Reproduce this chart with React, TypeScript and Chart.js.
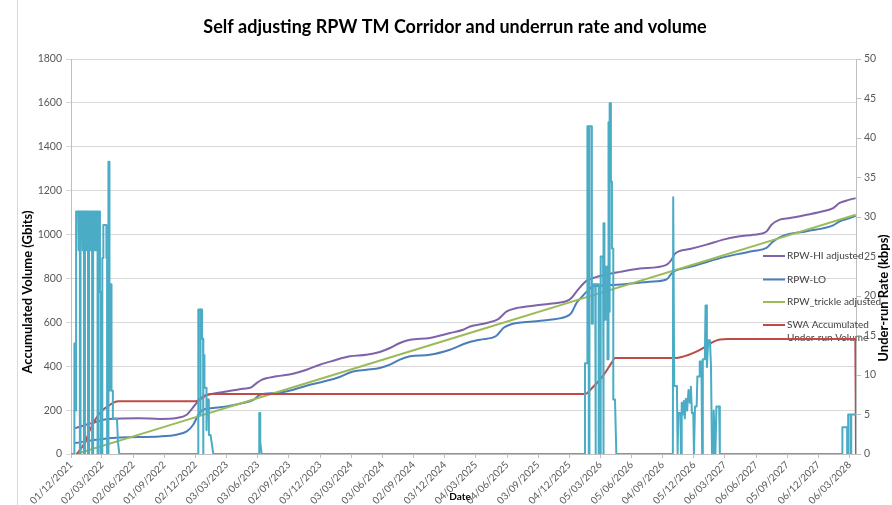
import React, { useEffect, useRef } from 'react';
import { Chart, registerables } from 'chart.js';

Chart.register(...registerables);

const chartTitle = 'Self adjusting RPW TM Corridor and underrun rate and volume';
const leftAxisTitle = 'Accumulated Volume (Gbits)';
const rightAxisTitle = 'Under-run Rate (kbps)';
const xAxisTitle = 'Date';

const xTickLabels = [
  '01/12/2021', '02/03/2022', '02/06/2022', '01/09/2022', '02/12/2022', '03/03/2023',
  '03/06/2023', '02/09/2023', '03/12/2023', '03/03/2024', '03/06/2024', '02/09/2024',
  '03/12/2024', '04/03/2025', '04/06/2025', '03/09/2025', '04/12/2025', '05/03/2026',
  '05/06/2026', '04/09/2026', '05/12/2026', '06/03/2027', '06/06/2027', '05/09/2027',
  '06/12/2027', '06/03/2028',
];

// days since 01/12/2021
const hiDays = [12, 60, 110, 200, 261, 310, 340, 358, 373, 388, 417, 457, 505, 531, 545, 560, 604, 652, 692, 731, 770, 819, 868, 907, 937, 966, 996, 1054, 1113, 1152, 1172, 1221, 1255, 1280, 1309, 1358, 1407, 1456, 1470, 1490, 1515, 1540, 1563, 1612, 1671, 1749, 1764, 1774, 1818, 1867, 1916, 1965, 2004, 2043, 2058, 2082, 2112, 2161, 2209, 2239, 2258, 2288, 2305];
const hiValues = [118, 140, 160, 163, 160, 164, 179, 211, 240, 263, 275, 285, 297, 305, 323, 338, 354, 366, 384, 407, 425, 445, 452, 465, 483, 506, 521, 529, 551, 566, 581, 597, 615, 650, 665, 676, 685, 697, 711, 750, 790, 805, 815, 830, 845, 862, 885, 913, 934, 954, 977, 992, 999, 1014, 1045, 1068, 1075, 1090, 1106, 1121, 1144, 1159, 1166];

const loDays = [12, 75, 144, 261, 310, 340, 359, 374, 388, 418, 457, 505, 536, 555, 604, 653, 692, 731, 780, 829, 868, 907, 937, 966, 996, 1054, 1113, 1162, 1201, 1250, 1270, 1289, 1358, 1407, 1456, 1470, 1485, 1500, 1515, 1534, 1583, 1632, 1700, 1749, 1764, 1774, 1820, 1870, 1916, 1965, 2004, 2043, 2063, 2091, 2161, 2239, 2258, 2288, 2305];
const loValues = [50, 65, 75, 80, 88, 103, 133, 179, 202, 210, 217, 232, 247, 270, 278, 293, 311, 326, 346, 376, 384, 392, 407, 430, 445, 452, 475, 506, 521, 539, 574, 589, 604, 612, 627, 643, 688, 715, 740, 764, 770, 775, 785, 795, 822, 834, 853, 876, 896, 913, 925, 939, 969, 994, 1015, 1042, 1060, 1075, 1085];

const trickleDays = [15, 300, 600, 937, 1200, 1515, 1800, 2100, 2305];
const trickleValues = [0, 136, 279, 440, 565, 715, 850, 993, 1090];

const swaDays = [17, 40, 56, 85, 115, 139, 365, 380, 400, 417, 1510, 1530, 1560, 1588, 1598, 1775, 1800, 1827, 1857, 1885, 1906, 1930, 2304, 2306];
const swaValues = [0, 50, 111, 187, 225, 240, 240, 250, 268, 273, 273, 300, 350, 415, 437, 437, 445, 460, 483, 510, 522, 524, 524, 0];

const rateDays = [
  0, 10, 10, 13, 13, 15, 15, 21, 21, 23, 23, 26, 26, 28, 28, 33, 33, 35, 35, 38, 38, 41, 41, 45, 45, 47, 47, 50, 50, 53, 53, 57, 57, 59, 59, 62, 62, 65, 65, 70, 70, 73, 73, 78, 78, 81, 81, 85, 85, 88, 88, 92, 92, 95, 95, 104, 104, 106, 106, 110, 110, 113, 113, 117, 119, 119, 123, 123, 135, 138, 142,
  374, 374, 380, 380, 381, 385, 385, 388, 388, 389, 389, 392, 392, 398, 398, 400, 405, 405, 410, 418,
  553, 553, 556, 556, 560,
  1510, 1510, 1517, 1517, 1521, 1521, 1523, 1523, 1530, 1530, 1533, 1533, 1540, 1540, 1542, 1542, 1550, 1550, 1556, 1556, 1563, 1563, 1565, 1565, 1567, 1567, 1570, 1570, 1576, 1576, 1579, 1579, 1581, 1581, 1583, 1583, 1586, 1586, 1589, 1589, 1593, 1593, 1598, 1602,
  1768, 1769, 1771, 1772, 1780, 1782, 1784, 1790, 1792, 1794, 1797, 1800, 1803, 1806, 1810, 1814, 1818, 1821, 1824, 1828, 1830, 1833, 1838, 1840, 1845, 1847, 1852, 1854, 1856, 1862, 1864, 1866, 1868, 1872, 1877, 1880, 1883, 1886, 1888, 1893, 1896, 1904, 1906,
  2265, 2266, 2280, 2280, 2283, 2283, 2290, 2290, 2292, 2292, 2306,
];
const rateValues = [
  0, 0, 14, 14, 5.5, 5.5, 30.7, 30.7, 25.8, 25.8, 30.7, 30.7, 0, 0, 30.7, 30.7, 25.8, 25.8, 30.7, 30.7, 0, 0, 30.7, 30.7, 25.8, 25.8, 30.7, 30.7, 0, 0, 30.7, 30.7, 25.8, 25.8, 30.7, 30.7, 0, 0, 30.7, 30.7, 25.8, 25.8, 30.7, 30.7, 0, 0, 30.7, 30.7, 20.5, 20.5, 0, 0, 24.8, 24.8, 29, 29, 24.8, 24.8, 0, 0, 37, 37, 8, 21.5, 21.5, 8, 8, 4.5, 4.5, 1.5, 0,
  0, 18.3, 18.3, 5, 18.3, 18.3, 14.6, 14.6, 0, 0, 12.5, 12.5, 8.4, 8.4, 3, 6.9, 6.9, 2.4, 2.4, 0,
  0, 5.2, 5.2, 1.5, 0,
  0, 11.5, 11.5, 41.5, 41.5, 0, 0, 41.5, 41.5, 16.5, 16.5, 21.5, 21.5, 0, 0, 21.5, 21.5, 0, 0, 25, 25, 0, 0, 29.2, 29.2, 17, 17, 23.7, 23.7, 12, 12, 42, 42, 18, 18, 44.4, 44.4, 34.5, 34.5, 26, 26, 6.9, 6.9, 0,
  0, 32.5, 32.5, 8.6, 8.6, 0, 5.2, 5.2, 0, 6.5, 5, 6.7, 4.5, 7, 5.5, 8.1, 6.5, 8.5, 5.2, 5.2, 0, 6, 6, 9.8, 9.8, 11.7, 11.7, 0, 12, 12, 18.8, 18.8, 11, 14.4, 14.4, 11.1, 0, 0, 5.5, 0, 6, 6, 0,
  0, 3.4, 3.4, 0, 0, 5, 5, 0, 0, 5, 5,
];

const FONT = 'Lato';
const startUTC = (() => { const [d, m, y] = xTickLabels[0].split('/').map(Number); return Date.UTC(y, m - 1, d); })();
const dayOf = (label: string) => {
  const [d, m, y] = label.split('/').map(Number);
  return Math.round((Date.UTC(y, m - 1, d) - startUTC) / 86400000);
};
const tickDays = xTickLabels.map(dayOf);
const labelByDay: Record<number, string> = {};
tickDays.forEach((d, i) => { labelByDay[d] = xTickLabels[i]; });

const toPoints = (xs: number[], ys: number[]) => xs.map((x, i) => ({ x, y: ys[i] }));

const legendItems = [
  { text: ['RPW-HI adjusted'], color: '#7f63a8', y: 256 },
  { text: ['RPW-LO'], color: '#4a7ebb', y: 279.5 },
  { text: ['RPW_trickle adjusted'], color: '#9bbb59', y: 302 },
  { text: ['SWA Accumulated', 'Under-run Volume'], color: '#be4b48', y: 325 },
];

const decorPlugin = {
  id: 'decor',
  beforeDatasetsDraw(chart: any) {
    const ctx = chart.ctx as CanvasRenderingContext2D;
    ctx.save();
    ctx.font = `10px ${FONT}`;
    ctx.textBaseline = 'middle';
    ctx.textAlign = 'left';
    legendItems.forEach((it) => {
      ctx.strokeStyle = it.color;
      ctx.lineWidth = 2;
      ctx.beginPath();
      ctx.moveTo(763, it.y);
      ctx.lineTo(785, it.y);
      ctx.stroke();
      ctx.fillStyle = '#404040';
      it.text.forEach((t, k) => ctx.fillText(t, 787, it.y + k * 12.7));
    });
    ctx.restore();
  },
  afterDraw(chart: any) {
    const ctx = chart.ctx as CanvasRenderingContext2D;
    ctx.save();
    ctx.strokeStyle = '#d9d9d9';
    ctx.lineWidth = 1;
    ctx.beginPath();
    ctx.moveTo(17.5, 0);
    ctx.lineTo(17.5, 505);
    ctx.stroke();

    ctx.fillStyle = '#000';
    ctx.textAlign = 'center';
    ctx.textBaseline = 'middle';
    ctx.font = `bold 18px ${FONT}`;
    ctx.fillText(chartTitle, 455, 27);

    ctx.font = `bold 13px ${FONT}`;
    ctx.save();
    ctx.translate(28, 292);
    ctx.rotate(-Math.PI / 2);
    ctx.fillText(leftAxisTitle, 0, 0);
    ctx.restore();

    ctx.save();
    ctx.translate(884, 298);
    ctx.rotate(-Math.PI / 2);
    ctx.fillText(rightAxisTitle, 0, 0);
    ctx.restore();

    ctx.font = `bold 10px ${FONT}`;
    ctx.fillText(xAxisTitle, 460, 497);
    ctx.restore();
  },
};

export default function App() {
  const ref = useRef<HTMLCanvasElement>(null);
  useEffect(() => {
    if (!ref.current) return;
    const tickFont = { family: FONT, size: 10 };
    const chart = new Chart(ref.current, {
      type: 'line',
      data: {
        datasets: [
          { label: 'Under-run Rate', data: toPoints(rateDays, rateValues), yAxisID: 'y1', borderColor: '#4bacc6', borderWidth: 2, pointRadius: 0, tension: 0, borderJoinStyle: 'round', order: 0 },
          { label: 'SWA Accumulated Under-run Volume', data: toPoints(swaDays, swaValues), yAxisID: 'y', borderColor: '#be4b48', borderWidth: 2, pointRadius: 0, cubicInterpolationMode: 'monotone', order: 1 },
          { label: 'RPW_trickle adjusted', data: toPoints(trickleDays, trickleValues), yAxisID: 'y', borderColor: '#9bbb59', borderWidth: 2, pointRadius: 0, order: 2 },
          { label: 'RPW-LO', data: toPoints(loDays, loValues), yAxisID: 'y', borderColor: '#4a7ebb', borderWidth: 2, pointRadius: 0, cubicInterpolationMode: 'monotone', order: 3 },
          { label: 'RPW-HI adjusted', data: toPoints(hiDays, hiValues), yAxisID: 'y', borderColor: '#7f63a8', borderWidth: 2, pointRadius: 0, cubicInterpolationMode: 'monotone', order: 4 },
        ] as any,
      },
      options: {
        animation: false,
        responsive: true,
        maintainAspectRatio: false,
        layout: { padding: { top: 59, left: 0, right: 0, bottom: 0 } },
        plugins: { legend: { display: false }, title: { display: false }, tooltip: { enabled: false } },
        scales: {
          x: {
            type: 'linear',
            min: 0,
            max: 2306,
            afterBuildTicks: (s: any) => { s.ticks = tickDays.map((v) => ({ value: v })); },
            afterFit: (s: any) => { s.height = 51; },
            ticks: {
              autoSkip: false,
              maxRotation: 45,
              minRotation: 45,
              padding: 1,
              font: tickFont,
              color: '#595959',
              callback: (v: any) => labelByDay[v as number] ?? '',
            },
            grid: { drawOnChartArea: false, drawTicks: true, tickLength: 4, color: '#bfbfbf' },
            border: { color: '#bfbfbf' },
          },
          y: {
            position: 'left',
            min: 0,
            max: 1800,
            afterFit: (s: any) => { s.width = 71; },
            ticks: { stepSize: 200, font: { family: FONT, size: 10.5 }, color: '#595959', padding: 4, callback: (v: any) => String(v) },
            grid: { color: '#d9d9d9', tickLength: 5 },
            border: { color: '#bfbfbf' },
          },
          y1: {
            position: 'right',
            min: 0,
            max: 50,
            afterFit: (s: any) => { s.width = 36; },
            ticks: { stepSize: 5, font: { family: FONT, size: 10.5 }, color: '#595959', padding: 3, callback: (v: any) => String(v) },
            grid: { drawOnChartArea: false, tickLength: 5, color: '#bfbfbf' },
            border: { color: '#bfbfbf' },
          },
        },
      } as any,
      plugins: [decorPlugin],
    });
    return () => chart.destroy();
  }, []);
  return (
    <div style={{ position: 'fixed', left: 0, top: 0, width: 892, height: 505, background: '#fff' }}>
      <canvas ref={ref} />
    </div>
  );
}
